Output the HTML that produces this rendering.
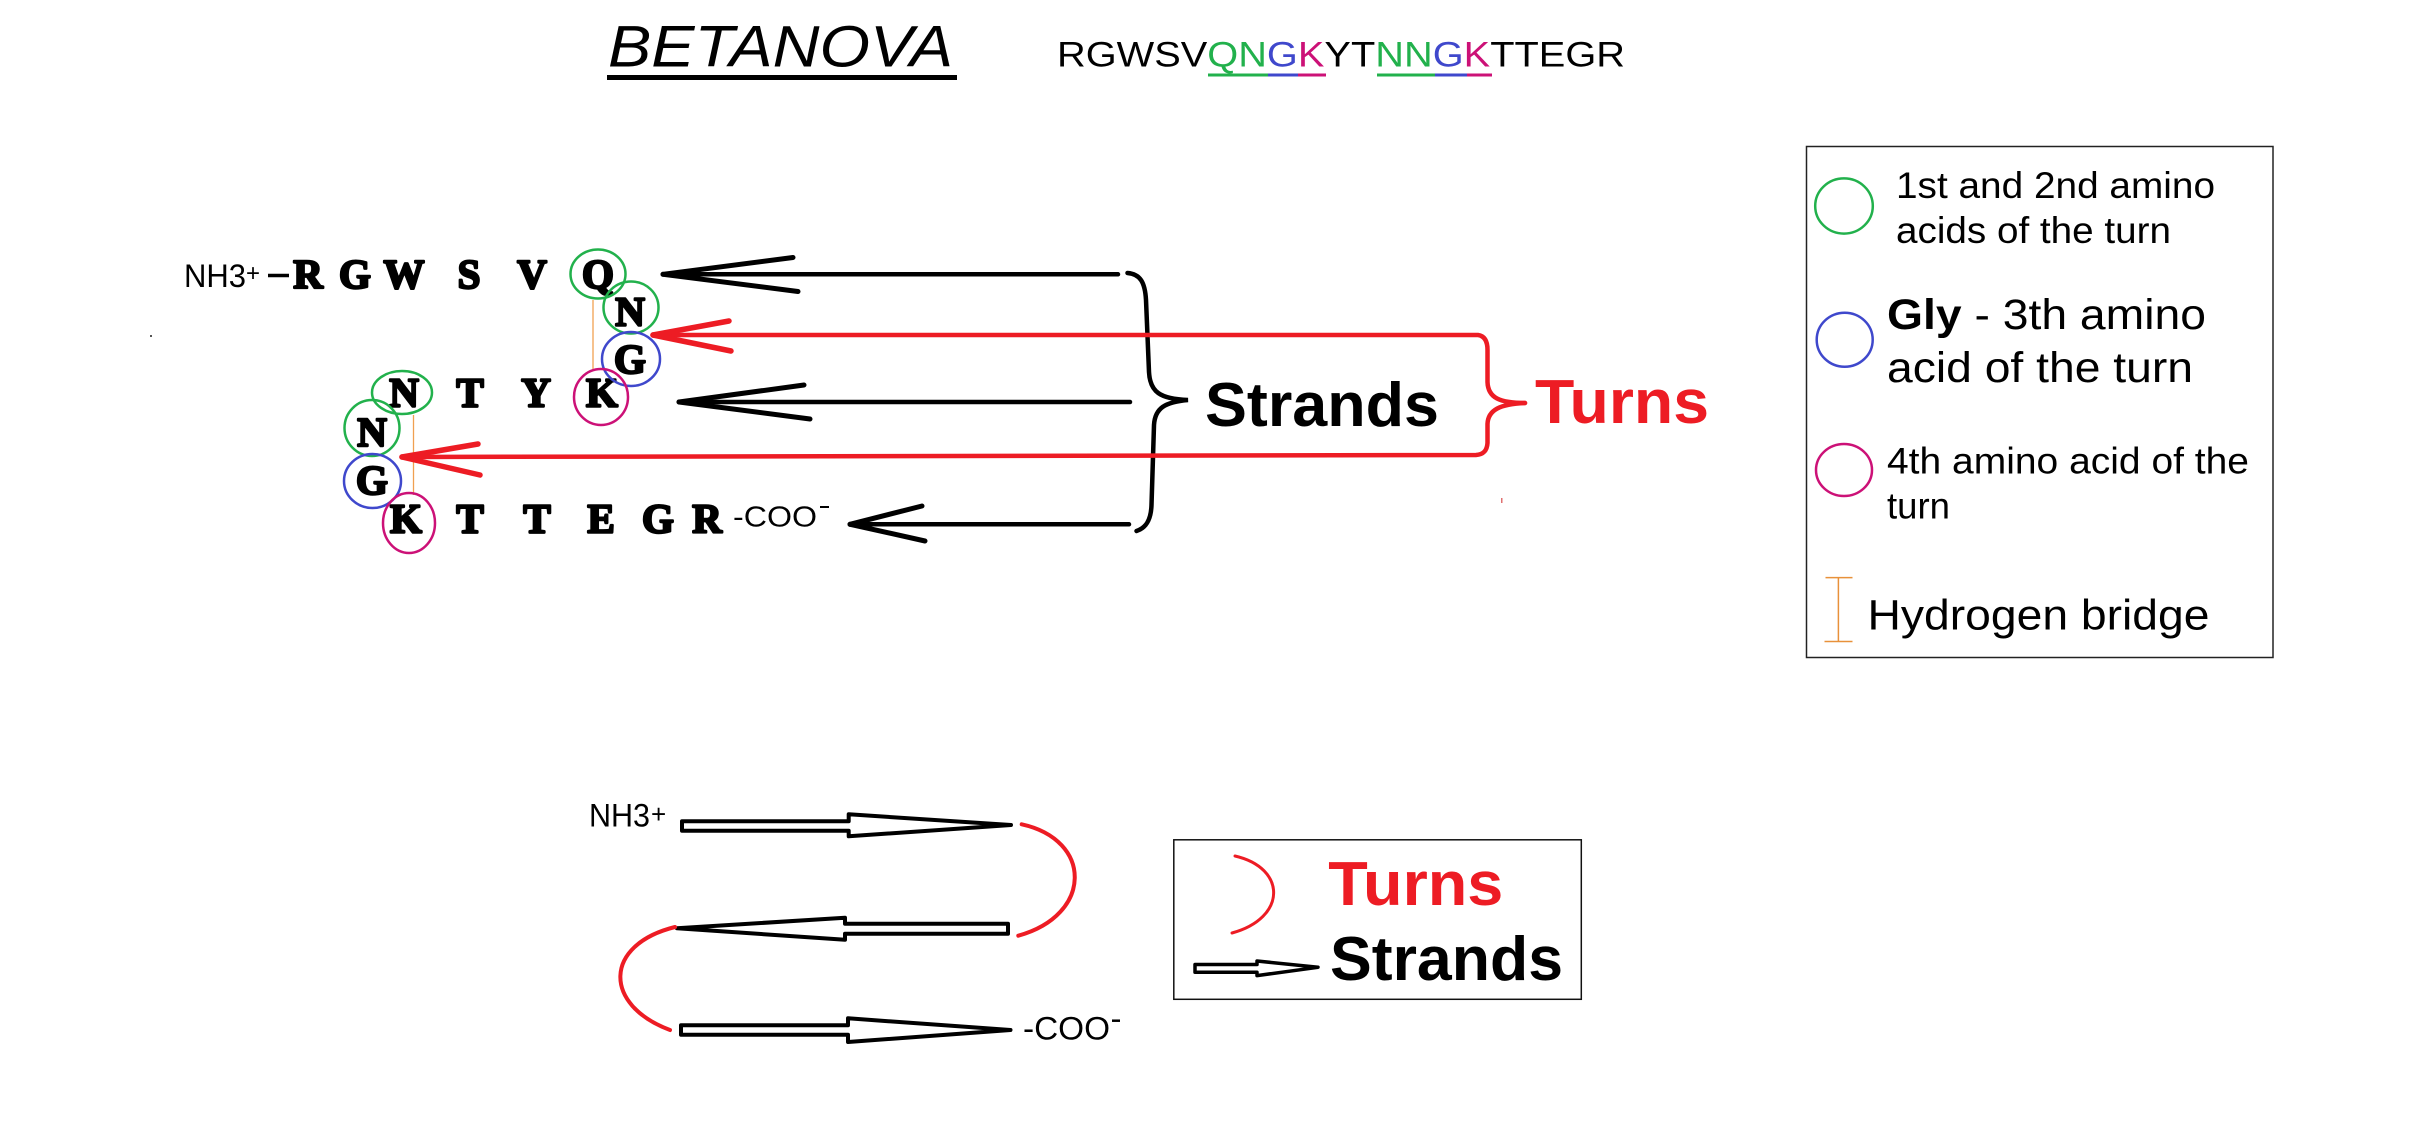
<!DOCTYPE html>
<html>
<head>
<meta charset="utf-8">
<style>
html,body{margin:0;padding:0;background:#fff;}
svg{display:block;}
text{font-family:"Liberation Sans",sans-serif;}
.aa{font-family:"Liberation Serif",serif;font-weight:bold;font-size:41px;fill:#000;stroke:#000;stroke-width:2.4px;stroke-linejoin:round;text-anchor:middle;}
</style>
</head>
<body>
<svg width="2416" height="1124" viewBox="0 0 2416 1124" xmlns="http://www.w3.org/2000/svg">
<rect width="2416" height="1124" fill="#fff"/>

<!-- Title -->
<text x="608" y="66.5" font-size="58" font-style="italic" textLength="345" lengthAdjust="spacingAndGlyphs" fill="#000">BETANOVA</text>
<rect x="607" y="75" width="350" height="5" fill="#000"/>

<!-- Sequence -->
<text x="1057" y="66.5" font-size="35" textLength="568" lengthAdjust="spacingAndGlyphs" fill="#000">RGWSV<tspan fill="#22b14c">QN</tspan><tspan fill="#3f48cc">G</tspan><tspan fill="#cc1177">K</tspan>YT<tspan fill="#22b14c">NN</tspan><tspan fill="#3f48cc">G</tspan><tspan fill="#cc1177">K</tspan>TTEGR</text>
<rect x="1208" y="73.5" width="60" height="3" fill="#22b14c"/>
<rect x="1268" y="73.5" width="30" height="3" fill="#3f48cc"/>
<rect x="1298" y="73.5" width="28" height="3" fill="#cc1177"/>
<rect x="1377" y="73.5" width="58" height="3" fill="#22b14c"/>
<rect x="1435" y="73.5" width="32" height="3" fill="#3f48cc"/>
<rect x="1467" y="73.5" width="25" height="3" fill="#cc1177"/>

<!-- Upper sequence diagram -->
<text x="184" y="287" font-size="32" textLength="62" lengthAdjust="spacingAndGlyphs" fill="#000">NH3</text>
<text x="246" y="281" font-size="24" fill="#000">+</text>
<line x1="268" y1="275.5" x2="289" y2="275.5" stroke="#000" stroke-width="3.5"/>

<!-- row 1 -->
<text class="aa" x="308" y="288">R</text>
<text class="aa" x="355" y="288">G</text>
<text class="aa" x="404" y="288">W</text>
<text class="aa" x="469" y="288">S</text>
<text class="aa" x="532" y="288">V</text>
<text class="aa" x="598" y="288">Q</text>
<text class="aa" x="630" y="325.5">N</text>
<text class="aa" x="630" y="373">G</text>
<!-- row 2 -->
<text class="aa" x="404" y="406.5">N</text>
<text class="aa" x="470" y="406.5">T</text>
<text class="aa" x="536" y="406.5">Y</text>
<text class="aa" x="602" y="406.5">K</text>
<text class="aa" x="372" y="446">N</text>
<text class="aa" x="372" y="494">G</text>
<!-- row 3 -->
<text class="aa" x="406" y="532.5">K</text>
<text class="aa" x="470" y="532.5">T</text>
<text class="aa" x="537" y="532.5">T</text>
<text class="aa" x="601" y="532.5">E</text>
<text class="aa" x="658" y="532.5">G</text>
<text class="aa" x="707" y="532.5">R</text>
<text x="733" y="526.5" font-size="29" textLength="84" lengthAdjust="spacingAndGlyphs" fill="#000">-COO</text>
<line x1="820" y1="507" x2="829" y2="507" stroke="#000" stroke-width="2"/>

<!-- hydrogen bridges -->
<line x1="593" y1="300" x2="593" y2="370" stroke="#f0a050" stroke-width="1.3"/>
<line x1="413.5" y1="415" x2="413.5" y2="495" stroke="#f0a050" stroke-width="1.3"/>

<!-- circles -->
<g fill="none" stroke-width="2.5">
<ellipse cx="598" cy="274" rx="27.5" ry="24.5" stroke="#22b14c"/>
<ellipse cx="631" cy="307.5" rx="27.5" ry="26" stroke="#22b14c"/>
<ellipse cx="631" cy="359" rx="29" ry="27" stroke="#3f48cc"/>
<ellipse cx="601" cy="397" rx="27" ry="28" stroke="#cc1177"/>
<ellipse cx="402" cy="392.5" rx="30" ry="21.5" stroke="#22b14c"/>
<ellipse cx="372" cy="428" rx="27.5" ry="28" stroke="#22b14c"/>
<ellipse cx="372.5" cy="481" rx="28.5" ry="27" stroke="#3f48cc"/>
<ellipse cx="409" cy="523" rx="26" ry="30" stroke="#cc1177"/>
</g>

<!-- black strand arrows -->
<g stroke="#000" stroke-width="4.5" stroke-linecap="round" fill="none">
<line x1="663" y1="274.3" x2="1118" y2="274.3"/>
<line x1="663" y1="274.3" x2="793" y2="257.5" stroke-width="5"/>
<line x1="663" y1="274.3" x2="798" y2="291.5" stroke-width="5"/>
<line x1="679" y1="402" x2="1130" y2="402"/>
<line x1="679" y1="402" x2="804" y2="385" stroke-width="5"/>
<line x1="679" y1="402" x2="810" y2="419" stroke-width="5"/>
<line x1="850" y1="524.3" x2="1129" y2="524.3"/>
<line x1="850" y1="524.3" x2="922" y2="506" stroke-width="5"/>
<line x1="850" y1="524.3" x2="925" y2="541" stroke-width="5"/>
<!-- black brace -->
<path d="M1127.5,273 C1140,274 1145,282 1146,300 L1149,372 C1150,392 1160,399 1188,400 C1165,402 1155,408 1154,425 L1151.5,505 C1151,520 1146,528 1136.5,531"/>
</g>

<!-- red turn arrows + brace -->
<g stroke="#ed1c24" stroke-width="4.5" stroke-linecap="round" stroke-linejoin="round" fill="none">
<path d="M653,335 L1478,335 C1485,336 1487.5,342 1487.5,350 L1487.5,382 C1488,398 1500,403 1525,403"/>
<path d="M1525,403 C1500,404 1488,410 1487.5,424 L1487.5,443 C1487,451 1483,454.5 1476,455 L402,457"/>
<line x1="653" y1="335" x2="729" y2="321" stroke-width="5.5"/>
<line x1="653" y1="335" x2="731" y2="351" stroke-width="5.5"/>
<line x1="402" y1="457" x2="478" y2="444" stroke-width="5.5"/>
<line x1="402" y1="457" x2="480" y2="475" stroke-width="5.5"/>
</g>

<text x="1205" y="426" font-size="62" font-weight="bold" textLength="234" lengthAdjust="spacingAndGlyphs" fill="#000">Strands</text>
<text x="1535" y="423" font-size="62" font-weight="bold" textLength="174" lengthAdjust="spacingAndGlyphs" fill="#ed1c24">Turns</text>

<!-- stray marks -->
<rect x="150" y="335" width="2" height="2" fill="#555"/>
<rect x="1501" y="498" width="1.5" height="5" fill="#e07070"/>

<!-- Legend 1 -->
<rect x="1806.5" y="146.5" width="466.5" height="511" fill="none" stroke="#222" stroke-width="1.5"/>
<ellipse cx="1844" cy="206" rx="28.8" ry="27.6" fill="none" stroke="#22b14c" stroke-width="2.5"/>
<text x="1896" y="198" font-size="37" textLength="319" lengthAdjust="spacingAndGlyphs" fill="#000">1st and 2nd amino</text>
<text x="1896" y="243" font-size="37" textLength="275" lengthAdjust="spacingAndGlyphs" fill="#000">acids of the turn</text>
<ellipse cx="1844.7" cy="339.7" rx="28" ry="27" fill="none" stroke="#3f48cc" stroke-width="2.5"/>
<text x="1887" y="329" font-size="43" textLength="319" lengthAdjust="spacingAndGlyphs" fill="#000"><tspan font-weight="bold">Gly</tspan> - 3th amino</text>
<text x="1887" y="382" font-size="43" textLength="306" lengthAdjust="spacingAndGlyphs" fill="#000">acid of the turn</text>
<ellipse cx="1844" cy="470" rx="28" ry="26" fill="none" stroke="#cc1177" stroke-width="2.5"/>
<text x="1887" y="473.5" font-size="37" textLength="362" lengthAdjust="spacingAndGlyphs" fill="#000">4th amino acid of the</text>
<text x="1887" y="518.5" font-size="37" textLength="63" lengthAdjust="spacingAndGlyphs" fill="#000">turn</text>
<g stroke="#e8913a" stroke-width="1.5">
<line x1="1838.4" y1="577.6" x2="1838.4" y2="641.5"/>
<line x1="1825.5" y1="577.6" x2="1852.5" y2="577.6"/>
<line x1="1824.5" y1="641.5" x2="1852.5" y2="641.5"/>
</g>
<text x="1867.5" y="629.7" font-size="43" textLength="342" lengthAdjust="spacingAndGlyphs" fill="#000">Hydrogen bridge</text>

<!-- Bottom schematic -->
<text x="589" y="826.7" font-size="32" textLength="61" lengthAdjust="spacingAndGlyphs" fill="#000">NH3</text>
<text x="651" y="823" font-size="26" fill="#000">+</text>

<g fill="#fff" stroke="#000" stroke-width="4" stroke-linejoin="round">
<polygon points="682,821.3 848.7,821.3 848.7,814.3 1011,825 848.7,836.3 848.7,830.7 682,830.7"/>
<polygon points="677,928.3 845,917.7 845,923.7 1008,923.7 1008,933.7 845,933.7 845,939.7"/>
<polygon points="681,1025.3 848,1025.3 848,1018.3 1010.5,1030 848,1042 848,1034.7 681,1034.7"/>
</g>
<g fill="none" stroke="#ed1c24" stroke-width="4" stroke-linecap="round">
<path d="M1021.7,824.3 C1093,840 1093,915 1018.3,935.7"/>
<path d="M675,927 C603,945 603,1005 670,1030"/>
</g>
<text x="1023" y="1039.3" font-size="32" textLength="87" lengthAdjust="spacingAndGlyphs" fill="#000">-COO</text>
<line x1="1112" y1="1020.7" x2="1120" y2="1020.7" stroke="#000" stroke-width="2.5"/>

<!-- Legend 2 -->
<rect x="1173.8" y="839.8" width="407.5" height="159.5" fill="none" stroke="#111" stroke-width="1.5"/>
<path d="M1235,856 C1287,868 1287,918 1232,933" fill="none" stroke="#ed1c24" stroke-width="3" stroke-linecap="round"/>
<polygon points="1195,964.5 1257,964.5 1257,961 1318,967.3 1257,975.6 1257,972.2 1195,972.2" fill="#fff" stroke="#000" stroke-width="3.5" stroke-linejoin="round"/>
<text x="1328.3" y="905" font-size="62" font-weight="bold" textLength="175" lengthAdjust="spacingAndGlyphs" fill="#ed1c24">Turns</text>
<text x="1330" y="980" font-size="62" font-weight="bold" textLength="233" lengthAdjust="spacingAndGlyphs" fill="#000">Strands</text>
</svg>
</body>
</html>
